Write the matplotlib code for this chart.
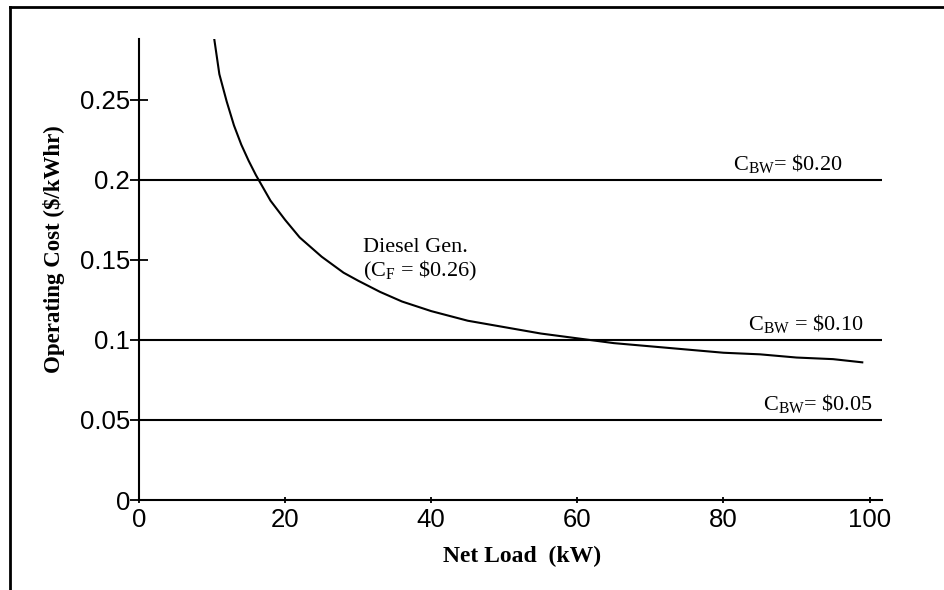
import matplotlib
matplotlib.use("Agg")
import matplotlib.pyplot as plt
from matplotlib.lines import Line2D

# ---- data ----
load_kw = [10.3, 11, 12, 13, 14, 15, 16, 17, 18, 20, 22, 25, 28, 30, 33, 36,
           40, 45, 50, 55, 60, 65, 70, 75, 80, 85, 90, 95, 99]
diesel_cost = [0.288, 0.266, 0.249, 0.234, 0.222, 0.212, 0.203, 0.195, 0.187,
               0.175, 0.164, 0.152, 0.142, 0.137, 0.130, 0.124, 0.118, 0.112,
               0.108, 0.104, 0.101, 0.098, 0.096, 0.094, 0.092, 0.091, 0.089,
               0.088, 0.086]
bw_costs = [0.20, 0.10, 0.05]
bw_labels = [r"C$_{\mathrm{BW}}$= \$0.20", r"C$_{\mathrm{BW}}$ = \$0.10", r"C$_{\mathrm{BW}}$= \$0.05"]
x_ticks = [0, 20, 40, 60, 80, 100]
y_ticks = [0, 0.05, 0.1, 0.15, 0.2, 0.25]
y_tick_labels = ["0", "0.05", "0.1", "0.15", "0.2", "0.25"]

plt.rcParams["mathtext.fontset"] = "custom"
plt.rcParams["mathtext.rm"] = "Liberation Serif"
plt.rcParams["mathtext.it"] = "Liberation Serif:italic"

fig = plt.figure(figsize=(9.44, 5.9), dpi=100)
ax = fig.add_axes([139/944, 1 - 500/590, 743/944, 461/590])

lw = 1.5
ax.plot(load_kw, diesel_cost, color="black", lw=lw)
for c in bw_costs:
    ax.axhline(c, color="black", lw=lw)

ax.set_xlim(0, 101.7)
ax.set_ylim(0, 0.288)

for s in ["top", "right"]:
    ax.spines[s].set_visible(False)
for s in ["left", "bottom"]:
    ax.spines[s].set_linewidth(lw)

ax.set_xticks(x_ticks)
ax.set_yticks(y_ticks)
ax.set_yticklabels(y_tick_labels)
ax.tick_params(axis="y", direction="inout", length=13, width=1.3, pad=0,
               labelsize=18.5)
ax.tick_params(axis="x", direction="inout", length=4, width=1.3, pad=4,
               labelsize=18.5)
for lab in ax.get_xticklabels() + ax.get_yticklabels():
    lab.set_fontfamily("Liberation Sans")

ax.set_ylabel("Operating Cost ($/kWhr)", fontfamily="Liberation Serif",
              fontweight="bold", fontsize=16.5)
ax.yaxis.set_label_coords(-0.099, 0.545)
ax.set_xlabel("Net Load  (kW)", fontfamily="Liberation Serif",
              fontweight="bold", fontsize=17)
ax.xaxis.set_label_coords(0.515, -0.1)

# annotations
label_x = [96.3, 99.2, 100.4]
label_y = [0.203, 0.103, 0.053]
for lx, ly, t in zip(label_x, label_y, bw_labels):
    ax.text(lx, ly, t, ha="right", va="bottom", fontsize=16,
            fontfamily="Liberation Serif")

ax.text(30.7, 0.152, "Diesel Gen.", fontsize=16, fontfamily="Liberation Serif",
        ha="left", va="bottom")
ax.text(30.7, 0.1355, r"(C$_{\mathrm{F}}$ = \$0.26)", fontsize=16,
        fontfamily="Liberation Serif", ha="left", va="bottom")

# outer frame (top and left edges)
fig.add_artist(Line2D([10/944, 1.0], [1 - 7/590, 1 - 7/590],
                      transform=fig.transFigure, color="black", lw=2))
fig.add_artist(Line2D([10/944, 10/944], [1 - 7/590, 0.0],
                      transform=fig.transFigure, color="black", lw=2))

fig.savefig("out.png", dpi=100)
